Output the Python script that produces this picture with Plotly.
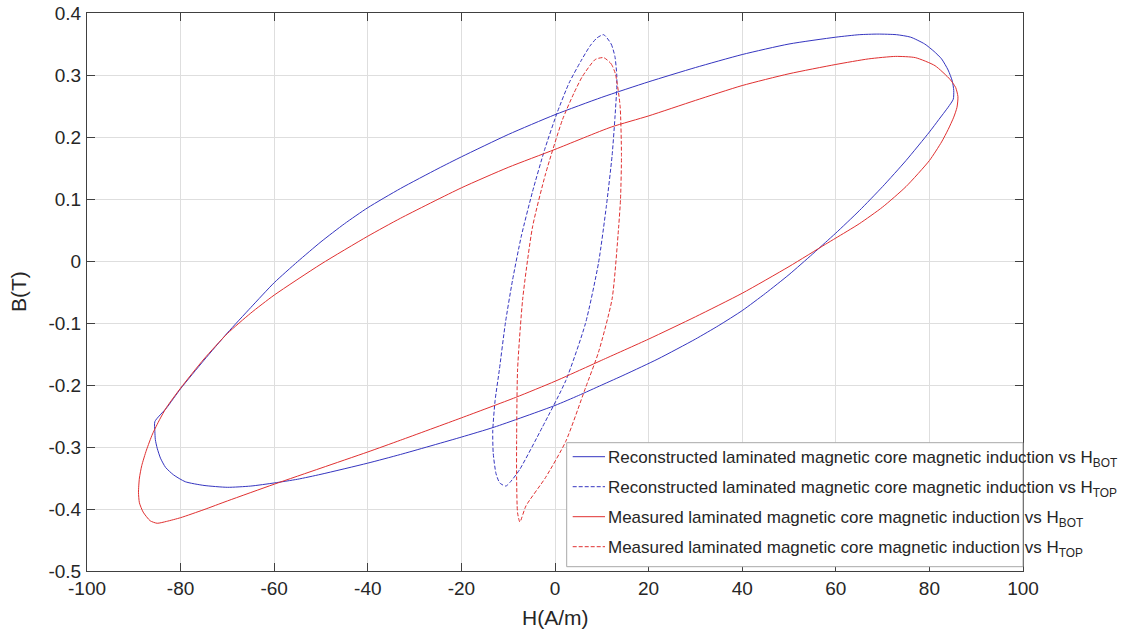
import plotly.graph_objects as go

# ---------------- data ----------------
rec_bot_h = [-85.5, -83, -80, -75, -70, -65, -60, -55, -50, -45, -40, -33, -25, -20, -10, 0, 10, 20, 30, 40,
             50, 60, 65, 69, 73, 76, 79, 81, 82.6, 84, 84.9, 85.2, 85.1,
             84, 82, 80, 75, 70, 65, 60, 57.8, 55, 50, 45, 40, 35, 30, 22, 15, 10, 5, 0, -13, -20, -33,
             -40, -50, -55, -60, -65, -70, -75, -79, -81.5, -83.2, -84.3, -85.0, -85.4, -85.5, -85.5]
rec_bot_b = [-0.259, -0.237, -0.206, -0.160, -0.116, -0.075, -0.035, -0.001, 0.031, 0.060, 0.086, 0.117, 0.149,
             0.168, 0.204, 0.236, 0.264, 0.289, 0.312, 0.333, 0.350, 0.361, 0.365, 0.366, 0.365, 0.361, 0.350,
             0.338, 0.326, 0.308, 0.290, 0.275, 0.261,
             0.248, 0.228, 0.208, 0.162, 0.120, 0.081, 0.045, 0.030, 0.011, -0.022, -0.052, -0.080, -0.104,
             -0.126, -0.158, -0.183, -0.200, -0.217, -0.233, -0.268, -0.284, -0.312, -0.326, -0.344, -0.352,
             -0.358, -0.363, -0.365, -0.362, -0.356, -0.345, -0.333, -0.318, -0.302, -0.288, -0.275, -0.259]

rec_top_h = [10.4, 12.0, 12.8, 13.2, 13.2, 12.8, 12.2, 11.0, 9.3, 6.5, 2.3, -2.7, -7.6, -9.5, -10.5, -11.8,
             -12.6, -13.2, -13.3, -12.8, -11.9, -10.6, -9.1, -7.2, -4.8, -2.2, 0.5, 3.0, 5.5, 7.5, 9.0, 10.4]
rec_top_b = [0.365, 0.350, 0.330, 0.300, 0.280, 0.230, 0.170, 0.090, -0.003, -0.101, -0.193, -0.268, -0.337,
             -0.356, -0.363, -0.358, -0.343, -0.310, -0.274, -0.225, -0.176, -0.100, -0.032, 0.040, 0.112,
             0.180, 0.240, 0.287, 0.322, 0.347, 0.360, 0.365]

mea_bot_h = [-89.0, -88.8, -88.3, -87.3, -86, -84.5, -83, -80, -75, -70, -65, -60, -50, -40, -33, -20, -10, 0,
             12, 20, 30, 40, 50, 60, 67, 72.8, 77, 81.2, 84.4, 85.6, 86.1,
             85.9, 85.2, 84, 82.6, 80, 75, 70, 65, 60, 57.8, 50, 40, 30, 20, 10, 6.5, 0, -8.4, -20, -33,
             -40, -50, -60, -70, -75, -80, -83, -85, -86.5, -88, -88.8, -89.0]
mea_bot_b = [-0.373, -0.350, -0.330, -0.305, -0.279, -0.256, -0.236, -0.205, -0.158, -0.117, -0.084, -0.055,
             -0.005, 0.040, 0.069, 0.118, 0.151, 0.180, 0.216, 0.234, 0.259, 0.283, 0.302, 0.317, 0.326,
             0.330, 0.328, 0.315, 0.293, 0.280, 0.265,
             0.248, 0.232, 0.212, 0.192, 0.162, 0.120, 0.087, 0.060, 0.037, 0.027, -0.009, -0.052, -0.090,
             -0.126, -0.160, -0.172, -0.194, -0.220, -0.253, -0.289, -0.308, -0.334, -0.360, -0.387, -0.401,
             -0.414, -0.420, -0.423, -0.419, -0.405, -0.390, -0.373]

mea_top_h = [10.4, 12.0, 12.9, 13.9, 14.2, 14.0, 13.6, 12.2, 9.3, 6.5, 2.3, -2.0, -6.2, -7.5, -8.0, -8.2,
             -8.2, -8.0, -6.9, -4.8, -2.0, 1.6, 4.0, 5.8, 8.6, 10.4]
mea_top_b = [0.328, 0.318, 0.302, 0.251, 0.170, 0.100, 0.055, -0.061, -0.147, -0.205, -0.291, -0.349, -0.395,
             -0.421, -0.406, -0.350, -0.291, -0.176, -0.061, 0.055, 0.141, 0.228, 0.270, 0.297, 0.325, 0.328]

x_ticks = [-100, -80, -60, -40, -20, 0, 20, 40, 60, 80, 100]
x_tick_text = ["-100", "-80", "-60", "-40", "-20", "0", "20", "40", "60", "80", "100"]
y_ticks = [-0.5, -0.4, -0.3, -0.2, -0.1, 0, 0.1, 0.2, 0.3, 0.4]
y_tick_text = ["-0.5", "-0.4", "-0.3", "-0.2", "-0.1", "0", "0.1", "0.2", "0.3", "0.4"]

series_names = [
    "Reconstructed laminated magnetic core magnetic induction vs H<sub>BOT</sub>",
    "Reconstructed laminated magnetic core magnetic induction vs H<sub>TOP</sub>",
    "Measured laminated magnetic core magnetic induction vs H<sub>BOT</sub>",
    "Measured laminated magnetic core magnetic induction vs H<sub>TOP</sub>",
]

# ---------------- style ----------------
FONT = "Liberation Sans, Arial, Helvetica, sans-serif"
BLUE = "#3535c0"
RED = "#e03030"
TXT = "#262626"
DASH = "4px,2px"

W, H = 1129, 629
L, R, T, B = 87, 106, 13, 58
PW, PH = W - L - R, H - T - B

def px2paper_x(px):
    return (px - L) / PW

def px2paper_y(py):
    return (H - B - py) / PH

fig = go.Figure()
series = [
    (rec_bot_h, rec_bot_b, BLUE, "solid"),
    (rec_top_h, rec_top_b, BLUE, DASH),
    (mea_bot_h, mea_bot_b, RED, "solid"),
    (mea_top_h, mea_top_b, RED, DASH),
]
for (hx, by, col, dash), name in zip(series, series_names):
    fig.add_trace(go.Scatter(x=hx, y=by, mode="lines", name=name, showlegend=False,
                             line=dict(color=col, width=1, dash=dash, shape="spline", smoothing=0.6)))

axis_common = dict(showgrid=True, gridcolor="#dedede", gridwidth=1, zeroline=False, automargin=False,
                   showline=True, linecolor="#404040", linewidth=1, mirror="ticks",
                   ticks="inside", ticklen=8, tickcolor="#404040", tickwidth=1,
                   tickfont=dict(family=FONT, size=19, color=TXT))

fig.update_xaxes(range=[-100, 100], tickvals=x_ticks, ticktext=x_tick_text, ticklabelstandoff=0, **axis_common)
fig.update_yaxes(range=[-0.5, 0.4], tickvals=y_ticks, ticktext=y_tick_text, ticklabelstandoff=1, **axis_common)

# legend box drawn manually (text overflows box like the reference)
shapes = [dict(type="rect", xref="paper", yref="paper",
               x0=px2paper_x(566.7), x1=px2paper_x(1023), y0=px2paper_y(566.7), y1=px2paper_y(442.7),
               fillcolor="white", line=dict(color="#a8a8a8", width=1), layer="above")]
annotations = []
row_y = [456.7, 486.7, 516.7, 546.7]
for (hx, by, col, dash), name, ry in zip(series, series_names, row_y):
    shapes.append(dict(type="line", xref="paper", yref="paper",
                       x0=px2paper_x(572.7), x1=px2paper_x(605), y0=px2paper_y(ry), y1=px2paper_y(ry),
                       line=dict(color=col, width=1, dash=dash), layer="above"))
    annotations.append(dict(text=name, xref="paper", yref="paper", x=px2paper_x(606),
                            y=px2paper_y(ry + 2.5), xanchor="left", yanchor="middle", showarrow=False,
                            font=dict(family=FONT, size=17, color=TXT)))

annotations.append(dict(text="H(A/m)", xref="paper", yref="paper", x=0.5, y=0, xanchor="center",
                        yanchor="middle", yshift=-46, showarrow=False,
                        font=dict(family=FONT, size=21, color=TXT)))
annotations.append(dict(text="B(T)", xref="paper", yref="paper", x=0, y=0.5, xanchor="center",
                        yanchor="middle", xshift=-69, textangle=-90, showarrow=False,
                        font=dict(family=FONT, size=21, color=TXT)))

fig.update_layout(width=W, height=H, autosize=False,
                  margin=dict(l=L, r=R, t=T, b=B, pad=0),
                  paper_bgcolor="white", plot_bgcolor="white",
                  shapes=shapes, annotations=annotations, showlegend=False)

fig.write_html("out.html", config={"displayModeBar": False},
               post_script="document.body.style.margin='0';")
